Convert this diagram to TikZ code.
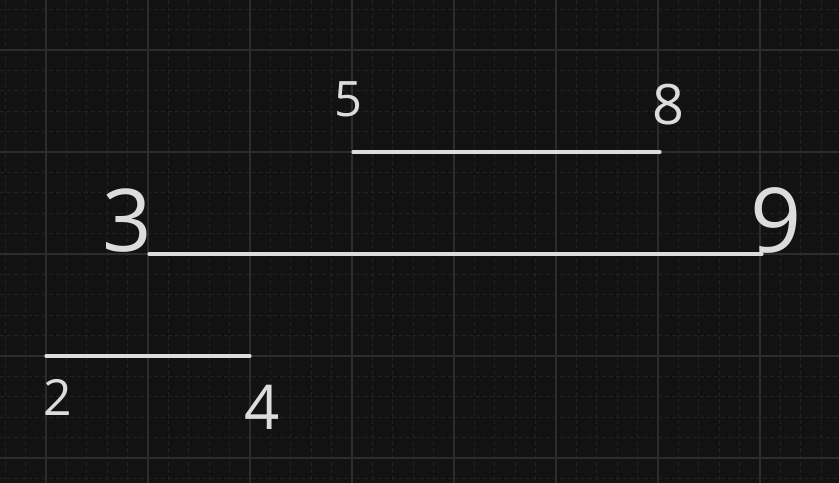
\documentclass[tikz,border=0pt]{standalone}
\usepackage{fontspec}
\setmainfont{Open Sans}
\definecolor{bg}{HTML}{121212}
\definecolor{minorc}{HTML}{222222}
\definecolor{majorc}{HTML}{2C2C2C}
\definecolor{ink}{HTML}{DCDCDC}
\tikzset{
  minorline/.style={minorc, line width=1bp, dash pattern=on 4bp off 3bp},
  majorline/.style={majorc, line width=1.2bp},
  stroke/.style={ink, line width=3.2bp, line cap=round},
  digit/.style={ink, inner sep=0pt, anchor=center}
}
\begin{document}
\begin{tikzpicture}[x=1bp,y=-1bp]
\fill[bg] (0,0) rectangle (839,483);
\useasboundingbox (0,0) rectangle (839,483);
% minor grid
\foreach \i in {0,...,40} { \draw[minorline] ({5.2+20.4*\i},0) -- ++(0,483); }
\foreach \j in {0,...,23} { \draw[minorline] (0,{9.2+20.4*\j}) -- ++(839,0); }
% major grid
\foreach \i in {0,...,7} { \draw[majorline] ({46+102*\i},0) -- ++(0,483); }
\foreach \j in {0,...,4} { \draw[majorline] (0,{50+102*\j}) -- ++(839,0); }
% endpoints
\coordinate (p5) at (353,152);
\coordinate (p8) at (660,152);
\coordinate (p3) at (149,254);
\coordinate (p9) at (762,254);
\coordinate (p2) at (46,356);
\coordinate (p4) at (250,356);
\draw[stroke] (p5) -- (p8);
\draw[stroke] (p3) -- (p9);
\draw[stroke] (p2) -- (p4);
% labels
\node[digit, font=\fontsize{49}{49}\selectfont] (l5) at (348,99) {5};
\node[digit, font=\fontsize{56}{56}\selectfont] (l8) at (668,105) {8};
\node[digit, font=\fontsize{87}{87}\selectfont] (l3) at (127,221) {3};
\node[digit, font=\fontsize{90}{90}\selectfont] (l9) at (776,220) {9};
\node[digit, font=\fontsize{50}{50}\selectfont] (l2) at (58,397) {2};
\node[digit, font=\fontsize{62}{62}\selectfont] (l4) at (262,407) {4};
\end{tikzpicture}
\end{document}
